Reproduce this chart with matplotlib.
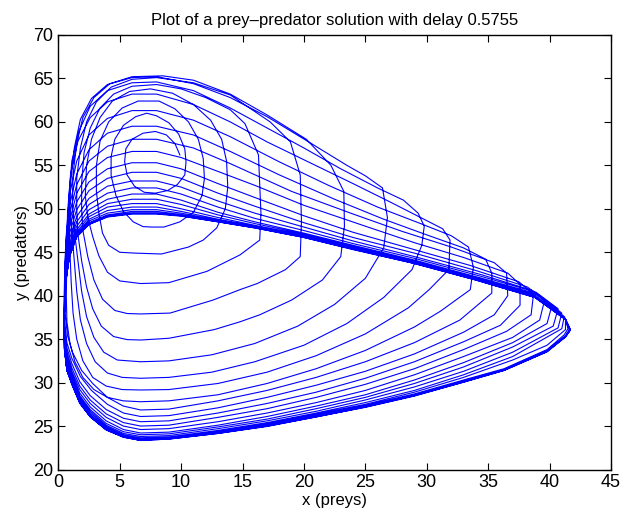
import numpy as np
import matplotlib.pyplot as plt

# trajectory, one list per turn of the spiral (x = preys, y = predators)
ring_00 = [(9.9, 56.2), (9.5, 57.5), (8.8, 58.5), (7.9, 58.9), (6.9, 58.7), (6.0, 58.0), (5.5, 56.9),
           (5.4, 55.4), (5.6, 53.9), (6.2, 52.6), (7.0, 51.9), (7.9, 51.8)]
ring_01 = [(8.9, 52.1), (9.7, 52.8), (10.3, 53.9), (10.4, 55.4), (10.3, 56.9), (9.8, 58.6), (9.0, 59.9),
           (8.0, 60.7), (7.2, 61.0), (6.3, 60.6), (5.3, 59.6), (4.6, 58.0), (4.3, 56.0), (4.3, 53.8),
           (4.7, 51.5), (5.3, 49.7), (6.1, 48.5), (6.9, 47.95), (7.6, 47.9)]
ring_02 = [(8.6, 47.9), (9.9, 48.5), (11.0, 49.6), (11.7, 51.5), (11.9, 53.5), (11.8, 55.8), (11.4, 58.0),
           (10.6, 60.0), (9.5, 61.5), (8.2, 62.4), (6.5, 62.4), (5.2, 61.6), (4.1, 60.0), (3.4, 57.8),
           (3.1, 55.0), (3.1, 52.0), (3.3, 49.5), (3.6, 47.2), (4.1, 45.8), (5.0, 45.0), (6.25, 44.9)]
ring_03 = [(8.4, 44.8), (10.6, 45.6), (11.8, 46.4), (12.9, 47.8), (13.6, 50.0), (13.8, 52.5), (13.7, 55.5),
           (13.3, 58.0), (12.4, 60.2), (11.0, 62.0), (9.3, 63.3), (7.5, 63.8), (5.8, 63.5), (4.4, 62.4),
           (3.4, 60.5), (2.7, 58.0), (2.3, 55.0), (2.2, 51.5), (2.4, 49.0), (2.8, 46.8), (3.3, 44.6),
           (4.0, 42.7), (5.0, 41.7), (6.7, 41.4)]
ring_04 = [(9.0, 41.5), (12.1, 42.8), (14.8, 44.7), (16.4, 46.4), (16.5, 49.5), (16.4, 53.0), (16.3, 56.2),
           (15.2, 59.8), (14.0, 61.4), (12.0, 62.8), (10.0, 63.8), (8.0, 64.3), (6.0, 64.1), (4.5, 63.2),
           (3.4, 61.6), (2.6, 59.3), (2.1, 56.5), (1.9, 53.0), (1.9, 50.0), (2.0, 47.5), (2.4, 44.5),
           (2.9, 41.8), (3.6, 39.6), (4.6, 38.3), (5.6, 37.95), (6.7, 37.9)]
ring_05 = [(9.1, 38.0), (12.6, 39.5), (14.8, 40.7), (16.2, 41.4), (18.5, 43.0), (19.7, 44.5), (19.8, 48.5),
           (19.7, 53.9), (18.9, 57.7), (17.25, 60.0), (14.0, 63.1), (11.0, 64.5), (8.0, 65.1), (6.0, 64.9),
           (4.3, 64.0), (3.1, 62.3), (2.3, 60.0), (1.8, 57.0), (1.5, 53.5), (1.5, 50.0), (1.6, 47.0),
           (1.9, 44.0), (2.3, 41.0), (2.8, 38.5), (3.5, 36.5), (4.5, 35.3), (5.6, 34.95), (6.7, 34.9)]
ring_06 = [(9.0, 35.1), (12.7, 36.1), (14.8, 37.0), (16.4, 37.8), (19.0, 39.5), (21.5, 41.8), (23.0, 44.5),
           (23.3, 48.0), (23.25, 52.0), (22.2, 55.0), (20.2, 58.0), (17.0, 60.8), (14.0, 63.2), (11.0, 64.8),
           (8.5, 65.3), (6.0, 65.2), (4.2, 64.4), (2.9, 62.8), (2.0, 60.5), (1.5, 57.5), (1.2, 54.0),
           (1.15, 50.5), (1.3, 47.5), (1.6, 44.0), (1.9, 40.5), (2.3, 37.6), (2.9, 35.2), (3.7, 33.5),
           (4.8, 32.6), (6.7, 32.4)]
ring_07 = [(9.0, 32.5), (12.5, 33.2), (16.0, 34.5), (19.5, 36.5), (22.5, 39.0), (25.0, 42.0), (26.5, 45.5),
           (26.8, 49.0), (26.4, 52.4), (25.0, 53.8), (23.5, 55.0), (20.5, 57.6), (17.0, 60.6), (14.0, 62.8),
           (11.0, 64.4), (8.0, 65.2), (6.0, 65.1), (4.0, 64.3), (2.7, 62.7), (1.8, 60.3), (1.3, 57.0),
           (1.0, 53.0), (0.95, 50.0), (1.1, 47.5), (1.3, 44.0), (1.5, 40.5), (1.8, 37.2), (2.3, 34.5),
           (3.0, 32.4), (4.0, 31.1), (5.2, 30.6), (6.7, 30.5)]
ring_08 = [(9.0, 30.6), (12.5, 31.2), (16.0, 32.4), (20.0, 34.3), (23.5, 36.8), (26.5, 39.8), (28.8, 43.0),
           (29.6, 45.8), (29.8, 48.0), (29.3, 49.5), (28.1, 51.0), (26.0, 52.4), (23.0, 54.6), (20.0, 57.0),
           (17.0, 59.3), (14.0, 61.6), (11.0, 63.6), (8.0, 64.6), (6.0, 64.5), (4.0, 63.6), (2.6, 61.8),
           (1.7, 59.0), (1.1, 55.5), (0.85, 51.0), (0.85, 48.0), (0.95, 45.0), (1.05, 41.5), (1.2, 38.0),
           (1.5, 35.0), (2.0, 32.5), (2.8, 30.6), (3.9, 29.6), (5.2, 29.2), (6.7, 29.15)]
ring_09 = [(9.0, 29.2), (13.0, 29.9), (17.0, 31.2), (21.0, 33.1), (25.0, 35.6), (28.5, 38.6), (30.2, 40.7),
           (31.8, 43.0), (31.9, 46.4), (31.3, 47.7), (29.5, 49.0), (27.0, 50.8), (24.0, 52.9), (20.5, 55.3),
           (17.0, 57.7), (14.0, 60.0), (11.0, 62.0), (8.0, 63.2), (6.0, 63.2), (4.0, 62.3), (2.6, 60.5),
           (1.6, 57.8), (1.0, 54.0), (0.75, 49.5), (0.7, 45.0), (0.65, 40.0), (0.7, 37.0), (0.95, 34.5),
           (1.35, 32.4), (2.0, 30.6), (2.9, 29.2), (4.0, 28.3), (5.3, 27.9), (6.7, 27.8)]
ring_10 = [(9.0, 27.9), (13.0, 28.6), (17.0, 29.9), (21.0, 31.6), (25.0, 33.7), (29.0, 36.4), (31.1, 38.2),
           (33.55, 40.7), (33.8, 43.3), (33.4, 45.6), (32.0, 46.9), (29.5, 48.3), (26.0, 50.2), (22.0, 52.7),
           (18.0, 55.4), (14.0, 58.3), (11.0, 60.2), (8.0, 61.3), (6.0, 61.3), (4.0, 60.4), (2.5, 58.5),
           (1.5, 55.5), (0.9, 51.5), (0.65, 47.0), (0.55, 42.5), (0.55, 38.0), (0.75, 35.4), (1.15, 33.5),
           (1.9, 31.4), (2.8, 29.9), (4.0, 28.3), (5.3, 27.3), (6.7, 26.85)]
ring_11 = [(9.0, 26.95), (13.0, 27.9), (17.0, 29.1), (21.0, 30.6), (25.0, 32.4), (29.0, 34.6), (32.7, 37.2),
           (35.3, 40.3), (35.3, 42.6), (34.8, 44.2), (33.0, 45.5), (30.0, 47.0), (26.5, 48.8), (22.5, 51.1),
           (18.0, 53.9), (14.0, 56.6), (11.0, 58.5), (8.0, 59.5), (6.0, 59.5), (4.0, 58.7), (2.5, 56.8),
           (1.5, 54.0), (0.9, 50.3), (0.6, 46.0), (0.5, 41.5), (0.5, 37.0), (0.7, 34.6), (1.1, 32.8),
           (1.8, 30.7), (2.7, 29.1), (4.0, 27.5), (5.3, 26.5), (6.7, 26.1)]
ring_12 = [(9.0, 26.2), (13.0, 27.1), (17.0, 28.3), (21.0, 29.7), (25.0, 31.3), (29.0, 33.3), (33.0, 35.8),
           (35.5, 37.8), (36.6, 40.0), (36.5, 42.6), (35.5, 43.8), (32.0, 45.6), (28.0, 47.4), (24.0, 49.4),
           (19.0, 52.0), (14.0, 55.2), (11.0, 57.0), (8.0, 58.0), (6.0, 58.0), (4.0, 57.2), (2.5, 55.5),
           (1.5, 52.8), (0.9, 49.3), (0.6, 45.3), (0.5, 41.0), (0.5, 36.5), (0.7, 34.0), (1.1, 32.2),
           (1.75, 30.1), (2.6, 28.5), (3.9, 26.9), (5.3, 25.9), (6.7, 25.5)]
ring_13 = [(9.0, 25.6), (13.0, 26.5), (17.0, 27.6), (21.0, 28.9), (25.0, 30.5), (29.0, 32.4), (33.0, 34.7),
           (36.0, 36.6), (37.6, 38.9), (37.6, 41.3), (36.6, 42.6), (33.0, 44.4), (29.0, 46.1), (25.0, 48.0),
           (20.0, 50.4), (16.0, 52.7), (13.0, 54.3), (10.0, 55.9), (8.0, 56.6), (6.0, 56.6), (4.0, 55.9),
           (2.5, 54.3), (1.5, 51.8), (0.9, 48.5), (0.6, 44.8), (0.5, 40.5), (0.5, 36.0), (0.7, 33.5),
           (1.1, 31.7), (1.75, 29.6), (2.6, 28.0), (3.9, 26.4), (5.3, 25.4), (6.7, 25.0)]
ring_14 = [(9.0, 25.1), (13.0, 26.0), (17.0, 27.0), (21.0, 28.3), (25.0, 29.8), (29.0, 31.6), (33.0, 33.8),
           (36.5, 35.9), (38.5, 37.8), (38.7, 40.2), (37.5, 41.6), (33.5, 43.5), (28.5, 45.5), (24.0, 47.3),
           (20.0, 49.2), (16.0, 51.3), (13.0, 52.9), (10.0, 54.6), (8.0, 55.3), (6.0, 55.3), (4.0, 54.6),
           (2.5, 53.1), (1.5, 50.8), (0.9, 47.8), (0.6, 44.3), (0.5, 40.0), (0.5, 35.5), (0.7, 33.1),
           (1.1, 31.3), (1.75, 29.2), (2.6, 27.6), (3.9, 26.0), (5.3, 25.0), (6.7, 24.6)]
ring_15 = [(9.0, 24.7), (13.0, 25.5), (17.0, 26.5), (21.0, 27.7), (25.0, 29.1), (29.0, 30.9), (33.0, 33.0),
           (37.0, 35.2), (39.2, 37.2), (39.6, 39.5), (38.2, 41.0), (34.0, 42.9), (29.0, 44.9), (24.0, 46.7),
           (20.0, 48.4), (16.0, 50.3), (13.0, 51.8), (10.0, 53.5), (8.0, 54.2), (6.0, 54.2), (4.0, 53.5),
           (2.5, 52.1), (1.5, 49.9), (0.9, 47.1), (0.6, 43.8), (0.5, 39.6), (0.5, 35.2), (0.7, 32.8),
           (1.1, 31.0), (1.75, 28.8), (2.6, 27.2), (3.9, 25.6), (5.3, 24.6), (6.7, 24.2)]
ring_16 = [(9.0, 24.3), (13.0, 25.1), (17.0, 26.1), (21.0, 27.3), (25.0, 28.6), (29.0, 30.3), (33.0, 32.3),
           (37.0, 34.6), (39.8, 36.8), (40.2, 38.9), (38.6, 40.6), (34.5, 42.4), (29.0, 44.5), (24.0, 46.3),
           (20.0, 47.9), (16.0, 49.5), (13.0, 50.9), (10.0, 52.5), (8.0, 53.2), (6.0, 53.2), (4.0, 52.6),
           (2.5, 51.2), (1.5, 49.1), (0.9, 46.5), (0.6, 43.3), (0.5, 39.3), (0.5, 35.0), (0.7, 32.5),
           (1.1, 30.7), (1.75, 28.5), (2.6, 26.9), (3.9, 25.3), (5.3, 24.35), (6.7, 24.0)]
ring_17 = [(9.0, 24.1), (13.0, 24.9), (17.0, 25.8), (21.0, 27.0), (25.0, 28.3), (29.0, 29.9), (33.0, 31.8),
           (37.0, 34.1), (40.3, 36.5), (40.7, 38.5), (38.9, 40.4), (34.5, 42.2), (29.0, 44.3), (24.0, 46.0),
           (20.0, 47.5), (16.0, 48.9), (13.0, 50.2), (10.0, 51.7), (8.0, 52.4), (6.0, 52.4), (4.0, 51.8),
           (2.5, 50.5), (1.5, 48.5), (0.9, 46.0), (0.6, 42.9), (0.5, 39.0), (0.5, 34.8), (0.7, 32.2),
           (1.1, 30.5), (1.75, 28.3), (2.6, 26.7), (3.9, 25.1), (5.3, 24.15), (6.7, 23.8)]
ring_18 = [(9.0, 23.9), (13.0, 24.7), (17.0, 25.6), (21.0, 26.7), (25.0, 28.0), (29.0, 29.5), (33.0, 31.3),
           (37.0, 33.5), (40.7, 36.3), (41.0, 38.0), (39.0, 40.2), (34.5, 42.0), (29.0, 44.1), (24.0, 45.8),
           (20.0, 47.2), (16.0, 48.5), (13.0, 49.6), (10.0, 51.0), (8.0, 51.7), (6.0, 51.7), (4.0, 51.1),
           (2.5, 49.9), (1.5, 48.0), (0.9, 45.6), (0.6, 42.6), (0.5, 38.8), (0.5, 34.6), (0.7, 32.0),
           (1.1, 30.3), (1.75, 28.1), (2.6, 26.5), (3.9, 24.95), (5.3, 24.0), (6.7, 23.65)]
ring_19 = [(9.0, 23.75), (13.0, 24.5), (17.0, 25.4), (21.0, 26.5), (25.0, 27.7), (29.0, 29.1), (33.0, 30.9),
           (37.0, 33.0), (41.0, 36.2), (41.2, 37.6), (39.0, 40.1), (34.5, 41.9), (29.0, 44.0), (24.0, 45.7),
           (20.0, 47.1), (16.0, 48.3), (13.0, 49.3), (10.0, 50.5), (8.0, 51.1), (6.0, 51.1), (4.0, 50.6),
           (2.5, 49.4), (1.5, 47.6), (0.9, 45.3), (0.6, 42.3), (0.5, 38.6), (0.5, 34.4), (0.7, 31.8),
           (1.1, 30.1), (1.75, 27.9), (2.6, 26.3), (3.9, 24.8), (5.3, 23.9), (6.7, 23.55)]
ring_20 = [(9.0, 23.65), (13.0, 24.4), (17.0, 25.3), (21.0, 26.4), (25.0, 27.5), (29.0, 28.9), (33.0, 30.6),
           (37.0, 32.6), (39.8, 34.3), (41.3, 36.1), (41.3, 37.4), (38.9, 40.0), (34.3, 41.9), (29.0, 43.9),
           (24.0, 45.6), (20.0, 47.0), (16.0, 48.1), (13.0, 49.0), (10.0, 50.0), (8.0, 50.6), (6.0, 50.6),
           (4.0, 50.2), (2.5, 49.1), (1.5, 47.3), (0.9, 45.0), (0.6, 42.0), (0.5, 38.4), (0.5, 34.2),
           (0.7, 31.7), (1.1, 30.0), (1.75, 27.8), (2.6, 26.2), (3.9, 24.7), (5.3, 23.85), (6.7, 23.5)]
ring_21 = [(9.0, 23.6), (13.0, 24.3), (17.0, 25.2), (21.0, 26.3), (25.0, 27.4), (29.0, 28.7), (33.0, 30.3),
           (36.3, 31.6), (39.8, 33.8), (41.2, 35.5), (41.5, 36.2), (41.3, 37.3), (38.8, 39.9), (34.2, 41.9),
           (29.0, 43.9), (24.0, 45.5), (20.0, 46.9), (16.0, 48.0), (13.0, 48.8), (10.0, 49.7), (8.0, 50.2),
           (6.0, 50.2), (4.0, 49.8), (2.5, 48.8), (1.5, 47.1), (0.9, 44.8), (0.6, 41.8), (0.5, 38.2),
           (0.5, 34.1), (0.7, 31.6), (1.1, 29.95), (1.75, 27.75), (2.6, 26.15), (3.9, 24.65), (5.3, 23.8),
           (6.7, 23.45)]
ring_22 = [(9.0, 23.6), (13.0, 24.25), (17.0, 25.1), (21.0, 26.2), (25.0, 27.3), (29.0, 28.6), (33.0, 30.2),
           (36.3, 31.5), (39.8, 33.7), (41.3, 35.4), (41.6, 36.1), (41.3, 37.3), (38.8, 39.9), (34.1, 41.9),
           (29.0, 43.8), (24.0, 45.5), (20.0, 46.9), (16.0, 48.0), (13.0, 48.7), (10.0, 49.5), (8.0, 49.9),
           (6.0, 49.9), (4.0, 49.5), (2.5, 48.6), (1.5, 47.0), (0.9, 44.7), (0.6, 41.7), (0.5, 38.1),
           (0.5, 34.0), (0.7, 31.5), (1.1, 29.9), (1.75, 27.7), (2.6, 26.1), (3.9, 24.6), (5.3, 23.8),
           (6.7, 23.4)]
ring_23 = [(9.0, 23.55), (13.0, 24.2), (17.0, 25.05), (21.0, 26.1), (25.0, 27.25), (29.0, 28.55), (33.0, 30.1),
           (36.3, 31.45), (39.8, 33.6), (41.3, 35.3), (41.7, 36.1), (41.3, 37.3), (38.8, 39.9), (34.0, 41.9),
           (29.0, 43.8), (24.0, 45.4), (20.0, 46.8), (16.0, 47.9), (13.0, 48.6), (10.0, 49.35), (8.0, 49.7),
           (6.0, 49.7), (4.0, 49.3), (2.5, 48.4), (1.5, 46.9), (0.9, 44.6), (0.6, 41.6), (0.5, 38.0),
           (0.5, 33.9), (0.7, 31.45), (1.1, 29.9), (1.75, 27.7), (2.6, 26.1), (3.9, 24.6), (5.3, 23.8),
           (6.7, 23.4)]
ring_24 = [(9.0, 23.55), (13.0, 24.2), (17.0, 25.0), (21.0, 26.1), (25.0, 27.2), (29.0, 28.5), (33.0, 30.1),
           (36.3, 31.45), (39.8, 33.6), (41.3, 35.3), (41.7, 36.1), (41.3, 37.3), (38.8, 39.85), (34.0, 41.85),
           (29.0, 43.75), (24.0, 45.4), (20.0, 46.75), (16.0, 47.85), (13.0, 48.55), (10.0, 49.25),
           (8.0, 49.55), (6.0, 49.55), (4.0, 49.2), (2.5, 48.3), (1.5, 46.8), (0.9, 44.5), (0.6, 41.5),
           (0.5, 38.0), (0.5, 33.9), (0.7, 31.4), (1.1, 29.85), (1.75, 27.65), (2.6, 26.1), (3.9, 24.6),
           (5.3, 23.75), (6.7, 23.35)]
ring_25 = [(9.0, 23.5), (13.0, 24.15), (17.0, 25.0), (21.0, 26.05), (25.0, 27.2), (29.0, 28.5), (33.0, 30.05),
           (36.3, 31.4), (39.8, 33.55), (41.3, 35.25), (41.7, 36.05), (41.3, 37.25), (38.8, 39.8), (34.0, 41.8),
           (29.0, 43.7), (24.0, 45.35), (20.0, 46.7), (16.0, 47.8), (13.0, 48.5), (10.0, 49.2), (8.0, 49.45),
           (6.0, 49.45), (4.0, 49.1), (2.5, 48.2), (1.5, 46.8), (0.9, 44.5), (0.6, 41.5), (0.5, 37.9),
           (0.5, 33.8), (0.7, 31.4), (1.1, 29.85), (1.75, 27.65), (2.6, 26.05), (3.9, 24.55), (5.3, 23.75),
           (6.7, 23.35)]
ring_26 = [(9.0, 23.5), (13.0, 24.15), (17.0, 24.95), (21.0, 26.05), (25.0, 27.15), (29.0, 28.45),
           (33.0, 30.05), (36.3, 31.4), (39.8, 33.55), (41.3, 35.25), (41.7, 36.05), (41.3, 37.25),
           (38.8, 39.8), (34.0, 41.8), (29.0, 43.7), (24.0, 45.3), (20.0, 46.7), (16.0, 47.8), (13.0, 48.5),
           (10.0, 49.15), (8.0, 49.4), (6.0, 49.4), (4.0, 49.05), (2.5, 48.2), (1.5, 46.75), (0.9, 44.45),
           (0.6, 41.5), (0.5, 37.9), (0.5, 33.8), (0.7, 31.4), (1.1, 29.8), (1.75, 27.6), (2.6, 26.05),
           (3.9, 24.55), (5.3, 23.7), (6.7, 23.35)]

rings = [ring_00, ring_01, ring_02, ring_03, ring_04, ring_05, ring_06, ring_07, ring_08, ring_09,
         ring_10, ring_11, ring_12, ring_13, ring_14, ring_15, ring_16, ring_17, ring_18, ring_19,
         ring_20, ring_21, ring_22, ring_23, ring_24, ring_25, ring_26]

x_ticks = [0, 5, 10, 15, 20, 25, 30, 35, 40, 45]
y_ticks = [20, 25, 30, 35, 40, 45, 50, 55, 60, 65, 70]

pts = np.array([p for r in rings for p in r])

plt.rcParams['font.family'] = ['Liberation Sans', 'DejaVu Sans']
fig = plt.figure(figsize=(6.23, 5.2), dpi=100)
ax = fig.add_axes([0.0936, 0.0971, 0.887, 0.8356])

ax.plot(pts[:, 0], pts[:, 1], color='#0000ff', lw=0.8)

ax.set_xlim(0, 45)
ax.set_ylim(20, 70)
ax.set_xticks(x_ticks)
ax.set_yticks(y_ticks)
ax.tick_params(direction='in', top=True, right=True, length=5, labelsize=13)
for s in ax.spines.values():
    s.set_linewidth(1.0)

ax.set_xlabel('x (preys)', fontsize=12, labelpad=1)
ax.set_ylabel('y (predators)', fontsize=12, labelpad=2)
ax.set_title('Plot of a prey\u2013predator solution with delay 0.5755', fontsize=12, pad=7)

fig.savefig('out.png', dpi=100)
